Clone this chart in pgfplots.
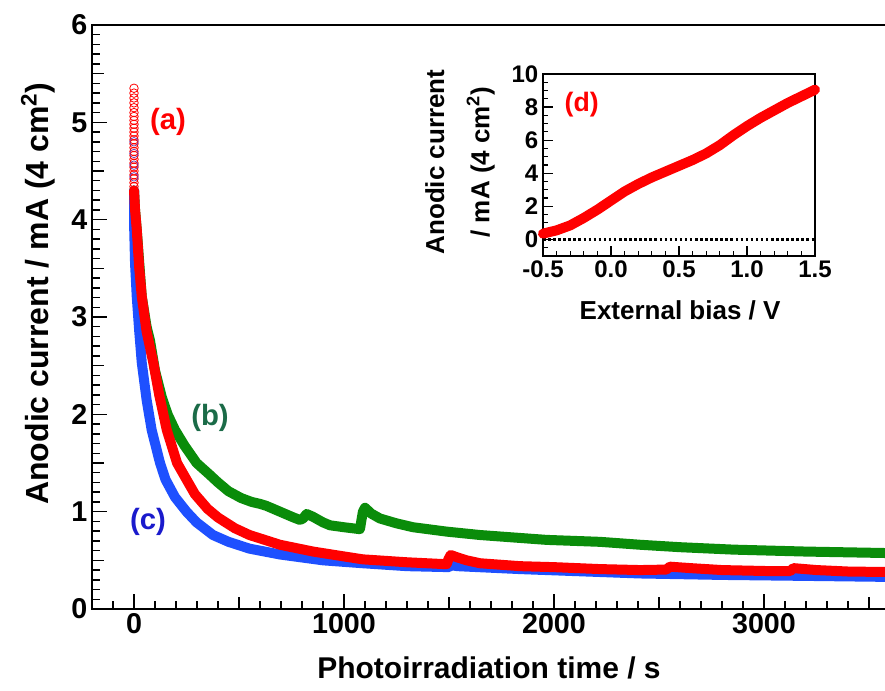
\documentclass[border=0pt]{standalone}
\usepackage{fontspec}
\setmainfont{Liberation Sans}
\usepackage{pgfplots}
\pgfplotsset{compat=1.18}
\definecolor{cRed}{HTML}{FF0000}
\definecolor{cGreen}{HTML}{0A8C0A}
\definecolor{cBlue}{HTML}{1E50FF}
\definecolor{cLblB}{HTML}{1B6B48}
\definecolor{cLblC}{HTML}{1A1ACC}

\begin{document}
\begin{tikzpicture}
% main panel: photocurrent transients (a), (b), (c)
\begin{axis}[
  name=main, at={(0,0)}, anchor=south west,
  scale only axis, width=614.25pt, height=438pt,
  xmin=-200, xmax=3700, ymin=0, ymax=6,
  xtick={0,1000,2000,3000}, ytick={0,1,...,6},
  minor xtick={-100,0,...,3600},
  minor ytick={0,0.1,...,6},
  extra x ticks={500,1500,2500,3500}, extra x tick labels={},
  extra y ticks={0.5,1.5,...,5.5}, extra y tick labels={},
  extra x tick style={major tick length=9pt},
  extra y tick style={major tick length=9pt},
  tick align=inside, tick pos=left,
  major tick length=11.5pt, minor tick length=6pt,
  axis line style={line width=1.5pt},
  every tick/.style={black, line width=1.1pt},
  scaled ticks=false,
  /pgf/number format/assume math mode=true,
  /pgf/number format/1000 sep={},
  tick label style={font=\fontsize{21.5}{21.5}\selectfont\bfseries},
  xlabel style={font=\fontsize{22.5}{27}\selectfont\bfseries},
  ylabel style={font=\fontsize{24}{28}\selectfont\bfseries},
  xlabel={Photoirradiation time / s},
  ylabel={Anodic current / mA (4 cm\textsuperscript{2})},
  xlabel style={at={(axis description cs:0.4847,-0.101)}, anchor=center},
  ylabel style={at={(axis description cs:-0.0659,0.54)}, anchor=center},
]
\addplot[cGreen, line width=7.5pt, line join=round, line cap=round] coordinates {
  (0,4.3) (5,4.1) (13,3.9) (37,3.21) (60,2.9) (76,2.76) (100,2.45) (132,2.18)
  (160,2.0) (195,1.84) (240,1.68) (298,1.50) (360,1.38) (400,1.30) (450,1.21)
  (510,1.14) (560,1.10) (600,1.08) (630,1.06) (695,1.0) (760,0.94) (790,0.915)
  (805,0.93) (822,0.976) (850,0.95) (900,0.89) (933,0.86) (1000,0.84)
  (1076,0.82) (1082,0.90) (1090,1.0) (1100,1.04) (1130,0.98) (1171,0.93)
  (1250,0.88) (1329,0.84) (1489,0.795) (1648,0.76) (1838,0.73) (1965,0.71)
  (2219,0.69) (2410,0.66) (2600,0.635) (2854,0.61) (3200,0.59) (3580,0.575)
  (3700,0.57)
};
\addplot[cBlue, line width=7.5pt, line join=round, line cap=round] coordinates {
  (0,4.3) (1,3.9) (5,3.55) (13,3.21) (25,2.85) (37,2.53) (60,2.15) (84,1.84)
  (124,1.50) (150,1.33) (195,1.15) (250,1.0) (298,0.89) (376,0.76) (450,0.69)
  (550,0.62) (695,0.56) (900,0.50) (1090,0.47) (1300,0.44) (1500,0.43)
  (1510,0.45) (1540,0.44) (1838,0.41) (2219,0.38) (2410,0.365) (2800,0.35)
  (3200,0.34) (3580,0.33) (3700,0.33)
};
\addplot[cRed, line width=7.5pt, line join=round, line cap=round] coordinates {
  (0,4.3) (5,4.1) (13,3.9) (25,3.5) (37,3.21) (60,2.85) (92,2.53) (120,2.2)
  (156,1.84) (205,1.50) (250,1.33) (290,1.18) (350,1.03) (400,0.94) (480,0.83)
  (550,0.76) (695,0.66) (853,0.59) (1000,0.54) (1090,0.51) (1300,0.48)
  (1489,0.46) (1497,0.51) (1508,0.555) (1540,0.53) (1584,0.50) (1648,0.47)
  (1838,0.44) (2000,0.43) (2219,0.41) (2410,0.40) (2535,0.405) (2552,0.435)
  (2650,0.42) (2800,0.40) (3013,0.39) (3125,0.39) (3140,0.42) (3250,0.40)
  (3400,0.385) (3580,0.38) (3700,0.38)
};
% first readings, drawn as open circles
\addplot[only marks, mark=o, mark size=3.2pt, cRed, line width=0.6pt] coordinates {
  (0,5.35) (0,5.30) (0,5.25) (0,5.20) (0,5.15) (0,5.10) (0,5.06) (0,5.02)
  (0,4.98) (0,4.94) (0,4.90) (0,4.86) (0,4.82) (0,4.78) (0,4.74) (0,4.70)
  (0,4.66) (0,4.62) (0,4.58) (0,4.54) (0,4.50) (0,4.46) (0,4.42) (0,4.38)
  (0,4.34)
};
\addplot[only marks, mark=o, mark size=3.2pt, cBlue!70!cRed, line width=0.5pt] coordinates {
  (0,4.80) (0,4.68) (0,4.56) (0,4.44)
};
\node[cRed, font=\fontsize{22}{22}\selectfont\bfseries] at (axis cs:162,5.0) {(a)};
\node[cLblB, font=\fontsize{22}{22}\selectfont\bfseries] at (axis cs:362,1.96) {(b)};
\node[cLblC, font=\fontsize{22}{22}\selectfont\bfseries] at (axis cs:67,0.89) {(c)};
\end{axis}

% inset (d): current against external bias
\begin{axis}[
  at={(338.25pt,264.75pt)}, anchor=south west,
  scale only axis, width=204pt, height=136.5pt,
  xmin=-0.5, xmax=1.5, ymin=-1, ymax=10,
  xtick={-0.5,0,0.5,1,1.5}, xticklabels={-0.5,0.0,0.5,1.0,1.5},
  ytick={0,2,...,10},
  minor xtick={-0.5,-0.4,...,1.5},
  minor ytick={-1,-0.5,...,10},
  tick align=inside, tick pos=left,
  major tick length=7.5pt, minor tick length=4pt,
  axis line style={line width=1.1pt},
  every tick/.style={black, line width=0.9pt},
  clip=false,
  axis background/.style={fill=white},
  /pgf/number format/assume math mode=true,
  tick label style={font=\fontsize{18}{18}\selectfont\bfseries},
  label style={font=\fontsize{19.5}{34}\selectfont\bfseries},
  xlabel={External bias / V},
  ylabel={Anodic current\\/ mA (4 cm\textsuperscript{2})},
  xlabel style={at={(axis description cs:0.504,-0.297)}, anchor=center},
  ylabel style={at={(axis description cs:-0.305,0.516)}, anchor=center, align=center},
]
\addplot[black, line width=2pt, dash pattern=on 1.9pt off 1.9pt] coordinates {(-0.5,0) (1.5,0)};
\addplot[cRed, line width=7.5pt, line join=round, line cap=round] coordinates {
  (-0.5,0.35) (-0.4,0.55) (-0.3,0.85) (-0.2,1.3) (-0.1,1.8) (0,2.35) (0.1,2.9)
  (0.2,3.35) (0.3,3.75) (0.4,4.1) (0.5,4.45) (0.6,4.8) (0.7,5.2) (0.8,5.7)
  (0.9,6.3) (1.0,6.85) (1.1,7.35) (1.2,7.8) (1.3,8.25) (1.4,8.65) (1.5,9.05)
};
\node[cRed, font=\fontsize{20}{20}\selectfont\bfseries] at (axis cs:-0.215,8.13) {(d)};
\end{axis}

\pgfresetboundingbox
\path (-69pt,-61.5pt) rectangle (594.75pt,456.75pt);
\end{tikzpicture}
\end{document}
